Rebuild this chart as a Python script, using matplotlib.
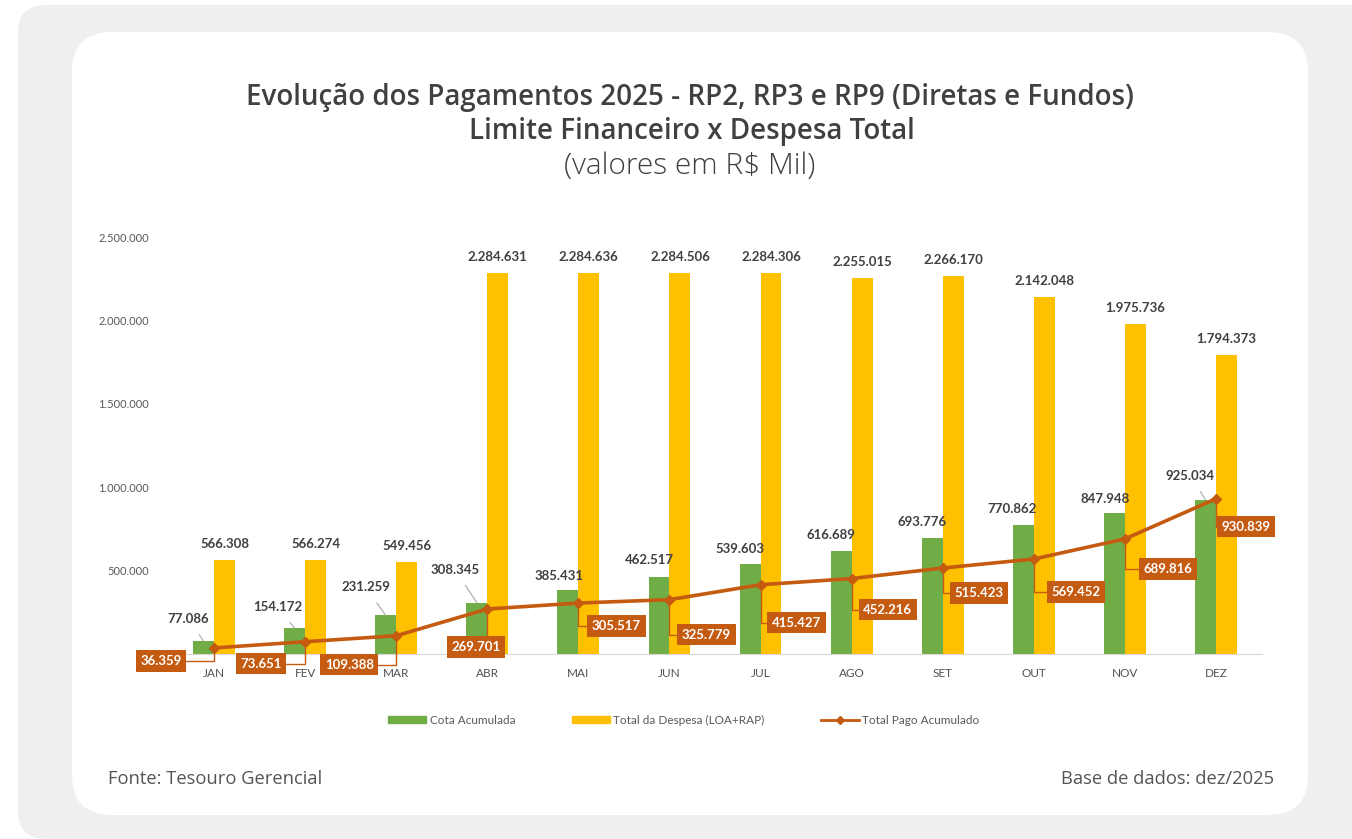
import matplotlib
matplotlib.use('Agg')
import matplotlib.pyplot as plt
import matplotlib.patches as mpatches
from matplotlib.lines import Line2D

months = ['JAN', 'FEV', 'MAR', 'ABR', 'MAI', 'JUN', 'JUL', 'AGO', 'SET', 'OUT', 'NOV', 'DEZ']
cota = [77086, 154172, 231259, 308345, 385431, 462517, 539603, 616689, 693776, 770862, 847948, 925034]
despesa = [566308, 566274, 549456, 2284631, 2284636, 2284506, 2284306, 2255015, 2266170, 2142048,
           1975736, 1794373]
pago = [36359, 73651, 109388, 269701, 305517, 325779, 415427, 452216, 515423, 569452, 689816, 930839]
y_ticks = [500000, 1000000, 1500000, 2000000, 2500000]

# label offsets in pixels (dx, dy with y up)
cota_offsets = [(-15, 22), (-17, 21), (-20, 28), (-22, 33), (-9, 14), (-10, 17), (-10, 15),
                (-10, 16), (-10, 16), (-11, 16), (-9, 14), (-15, 24)]
cota_leader = [True, True, True, True, False, False, False, False, False, False, False, True]
pago_offsets = [(-53, -13), (-44, -22), (-47, -29), (-11, -38), (38, -23), (37, -35), (36, -38),
                (36, -31), (36, -25), (42, -33), (43, -30), (30, -28)]

GREEN = '#70ad47'
YELLOW = '#ffc000'
ORANGE = '#c55a11'
TEXT = '#404040'


def fmt(v):
    return f'{v:,}'.replace(',', '.')


plt.rcParams['font.family'] = ['Lato', 'DejaVu Sans']

fig = plt.figure(figsize=(13.52, 8.39), dpi=100, facecolor='white')

# background panels (in inches via dpi_scale_trans)
outer = mpatches.FancyBboxPatch((0.18, 0.0), 13.6, 8.34, boxstyle='round,pad=0,rounding_size=0.28',
                                transform=fig.dpi_scale_trans, facecolor='#efefef', edgecolor='none',
                                zorder=-10)
inner = mpatches.FancyBboxPatch((0.72, 0.24), 12.36, 7.83, boxstyle='round,pad=0,rounding_size=0.4',
                                transform=fig.dpi_scale_trans, facecolor='white', edgecolor='none',
                                zorder=-9)
fig.add_artist(outer)
fig.add_artist(inner)

ax = fig.add_axes([168.5 / 1352, 185 / 839, 1093 / 1352, 417 / 839])
ax.set_facecolor('none')

x = list(range(len(months)))
w = 0.23
ax.bar([i - w / 2 for i in x], cota, width=w, color=GREEN, zorder=2)
ax.bar([i + w / 2 for i in x], despesa, width=w, color=YELLOW, zorder=2)
ax.plot(x, pago, color=ORANGE, lw=2.6, marker='D', markersize=5, zorder=3)

ax.set_xlim(-0.5, len(months) - 0.5)
ax.set_ylim(0, 2500000)
ax.set_yticks(y_ticks)
ax.set_yticklabels([fmt(v) for v in y_ticks], fontsize=8, color='#595959')
ax.set_xticks(x)
ax.set_xticklabels(months, fontsize=8.5, color='#505050')
ax.tick_params(length=0)
ax.tick_params(axis='y', pad=14)
ax.tick_params(axis='x', pad=10)
for s in ['top', 'right', 'left']:
    ax.spines[s].set_visible(False)
ax.spines['bottom'].set_color('#d9d9d9')

# yellow bar labels
for i, v in enumerate(despesa):
    ax.annotate(fmt(v), (i + w / 2, v), xytext=(0, 16), textcoords='offset pixels',
                ha='center', va='center', fontsize=9.5, fontweight='bold', color=TEXT,
                annotation_clip=False)

# green bar labels
for i, v in enumerate(cota):
    dx, dy = cota_offsets[i]
    arrow = dict(arrowstyle='-', color='#a6a6a6', lw=0.8, shrinkA=6, shrinkB=0) if cota_leader[i] else None
    ax.annotate(fmt(v), (i - w / 2, v), xytext=(dx, dy), textcoords='offset pixels',
                ha='center', va='center', fontsize=9.5, fontweight='bold', color=TEXT,
                arrowprops=arrow, annotation_clip=False, zorder=4)

# orange line labels
for i, v in enumerate(pago):
    dx, dy = pago_offsets[i]
    ax.annotate(fmt(v), (i, v), xytext=(dx, dy), textcoords='offset pixels',
                ha='center', va='center', fontsize=9.5, fontweight='bold', color='white',
                bbox=dict(boxstyle='square,pad=0.35', facecolor=ORANGE, edgecolor='none'),
                arrowprops=dict(arrowstyle='-', color=ORANGE, lw=1,
                                connectionstyle='angle,angleA=0,angleB=90,rad=0',
                                shrinkA=0, shrinkB=0),
                annotation_clip=False, zorder=5)

handles = [mpatches.Patch(color=GREEN, label='Cota Acumulada'),
           mpatches.Patch(color=YELLOW, label='Total da Despesa (LOA+RAP)'),
           Line2D([0], [0], color=ORANGE, lw=2, marker='D', markersize=4, label='Total Pago Acumulado')]
fig.legend(handles=handles, loc='center', bbox_to_anchor=(684 / 1352, 1 - 720 / 839), ncol=3,
           frameon=False, fontsize=8.5, labelcolor='#595959', handlelength=3.2, handleheight=0.6,
           columnspacing=4.8, handletextpad=0.3)

TITLE_FONT = ['Open Sans', 'DejaVu Sans']
fig.text(690 / 1352, 1 - 98 / 839, 'Evolução dos Pagamentos 2025 - RP2, RP3 e RP9 (Diretas e Fundos)',
         ha='center', va='center', fontsize=20, fontweight='semibold', color=TEXT, family=TITLE_FONT)
fig.text(692 / 1352, 1 - 132 / 839, 'Limite Financeiro x Despesa Total',
         ha='center', va='center', fontsize=20, fontweight='semibold', color=TEXT, family=TITLE_FONT)
fig.text(690 / 1352, 1 - 166 / 839, '(valores em R$ Mil)',
         ha='center', va='center', fontsize=21.5, fontweight='light', color=TEXT, family=TITLE_FONT)
fig.text(108 / 1352, 1 - 779 / 839, 'Fonte: Tesouro Gerencial', ha='left', va='center',
         fontsize=13.2, color='#555555', family=TITLE_FONT)
fig.text(1274 / 1352, 1 - 779 / 839, 'Base de dados: dez/2025', ha='right', va='center',
         fontsize=13.2, color='#555555', family=TITLE_FONT)

fig.savefig('out.png', dpi=100, facecolor='white')
